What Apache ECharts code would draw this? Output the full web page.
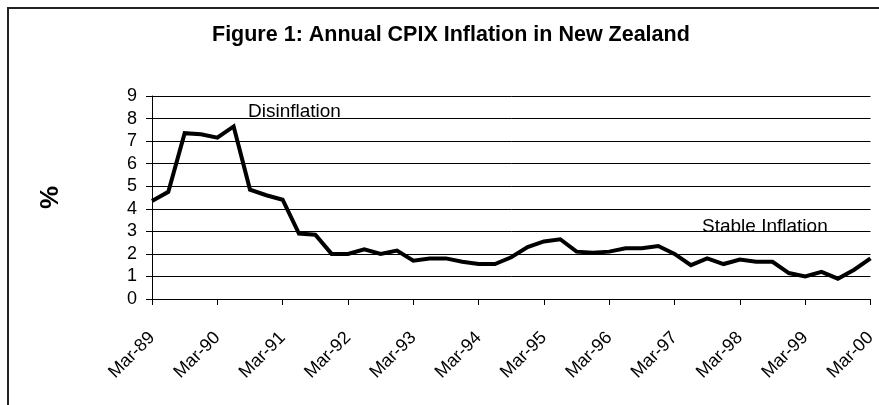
<!DOCTYPE html>
<html>
<head>
<meta charset="UTF-8">
<title>Figure 1: Annual CPIX Inflation in New Zealand</title>
<script type="text/javascript" src="https://cdn.jsdelivr.net/npm/echarts@6/dist/echarts.min.js"></script>
<style>
  html, body { margin: 0; padding: 0; background: #fff; }
</style>
</head>
<body>
<div id="main" style="width:879px;height:405px"></div>
<script type="text/javascript">
// quarterly dates, Mar-89 .. Mar-00
var quarters = [
  'Mar-89', 'Jun-89', 'Sep-89', 'Dec-89',
  'Mar-90', 'Jun-90', 'Sep-90', 'Dec-90',
  'Mar-91', 'Jun-91', 'Sep-91', 'Dec-91',
  'Mar-92', 'Jun-92', 'Sep-92', 'Dec-92',
  'Mar-93', 'Jun-93', 'Sep-93', 'Dec-93',
  'Mar-94', 'Jun-94', 'Sep-94', 'Dec-94',
  'Mar-95', 'Jun-95', 'Sep-95', 'Dec-95',
  'Mar-96', 'Jun-96', 'Sep-96', 'Dec-96',
  'Mar-97', 'Jun-97', 'Sep-97', 'Dec-97',
  'Mar-98', 'Jun-98', 'Sep-98', 'Dec-98',
  'Mar-99', 'Jun-99', 'Sep-99', 'Dec-99',
  'Mar-00'
];

// annual CPIX inflation, %
var cpix = [
  4.35, 4.75, 7.35, 7.3,
  7.15, 7.65, 4.85, 4.6,
  4.4, 2.9, 2.85, 2.0,
  2.0, 2.2, 2.0, 2.15,
  1.7, 1.8, 1.8, 1.65,
  1.55, 1.55, 1.85, 2.3,
  2.55, 2.65, 2.1, 2.05,
  2.1, 2.25, 2.25, 2.35,
  2.0, 1.5, 1.8, 1.55,
  1.75, 1.65, 1.65, 1.15,
  1.0, 1.2, 0.9, 1.3,
  1.8
];

var notes = ['Disinflation', 'Stable Inflation'];

var font = "'Liberation Sans', Arial, sans-serif";

var myChart = echarts.init(document.getElementById('main'));

var option = {
  backgroundColor: '#fff',
  animation: false,
  title: {
    text: 'Figure 1: Annual CPIX Inflation in New Zealand',
    left: 207,
    top: 19,
    textStyle: { fontFamily: font, fontSize: 21.5, fontWeight: 'bold', color: '#000' }
  },
  graphic: [
    { // outer frame
      type: 'rect',
      shape: { x: 8, y: 8, width: 900, height: 430 },
      style: { fill: 'none', stroke: '#222', lineWidth: 2 },
      silent: true
    },
    {
      type: 'text',
      x: 248, y: 112,
      style: { text: notes[0], fontFamily: font, fontSize: 19, fill: '#000', verticalAlign: 'middle' }
    },
    {
      type: 'text',
      x: 702, y: 227,
      style: { text: notes[1], fontFamily: font, fontSize: 19, fill: '#000', verticalAlign: 'middle' }
    }
  ],
  grid: { left: 152, right: 5, top: 96, bottom: 106 },
  xAxis: {
    type: 'category',
    data: quarters,
    boundaryGap: false,
    axisLine: { lineStyle: { color: '#000', width: 1 } },
    axisTick: { interval: 3, length: 6, lineStyle: { color: '#000' } },
    axisLabel: {
      interval: 3,
      rotate: 45,
      margin: 36,
      fontFamily: font,
      fontSize: 18,
      color: '#000'
    },
    splitLine: { show: false }
  },
  yAxis: {
    type: 'value',
    min: 0,
    max: 9,
    interval: 1,
    name: '%',
    nameLocation: 'middle',
    nameRotate: 90,
    nameGap: 88,
    nameTextStyle: { fontFamily: font, fontSize: 26, fontWeight: 'bold', color: '#000' },
    axisLine: { show: true, lineStyle: { color: '#000', width: 1 } },
    axisTick: { show: true, length: 6, lineStyle: { color: '#000' } },
    axisLabel: { margin: 15, fontFamily: font, fontSize: 18, color: '#000' },
    splitLine: { show: true, lineStyle: { color: '#000', width: 1 } }
  },
  series: [
    {
      type: 'line',
      data: cpix,
      showSymbol: false,
      lineStyle: { color: '#000', width: 4, join: 'miter' },
      itemStyle: { color: '#000' }
    }
  ]
};

myChart.setOption(option);
</script>
</body>
</html>
